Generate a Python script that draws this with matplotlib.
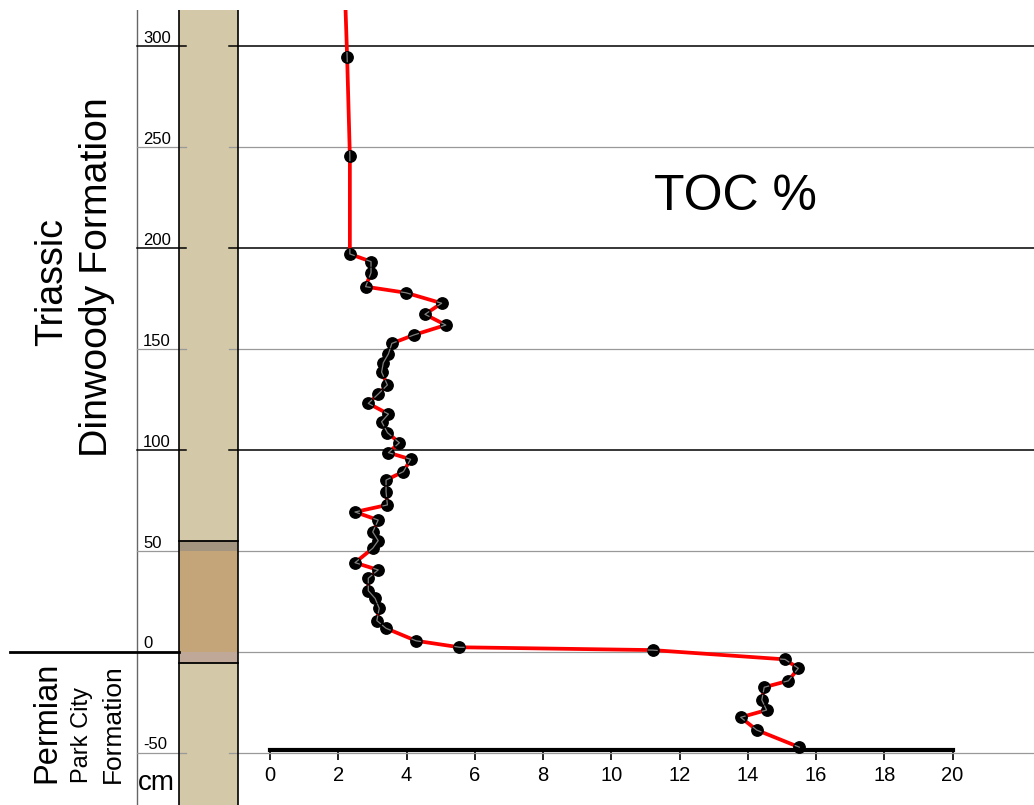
import matplotlib
matplotlib.use('Agg')
from matplotlib import pyplot as plt
from matplotlib.patches import Rectangle
from matplotlib.path import Path
from matplotlib.transforms import IdentityTransform
import numpy as np

plt.rcParams['font.family'] = ['Liberation Sans', 'DejaVu Sans']

# sample depths (cm above the Permian/Triassic contact) and TOC %
depth = [335, 294.5, 245.5, 197.0, 193.2, 187.7, 180.8, 177.8, 172.6, 167.1,
         161.8, 156.9, 152.7, 147.5, 143.1, 138.5, 132.1, 127.6, 123.0, 117.7,
         113.9, 108.5, 103.5, 98.6, 95.3, 89.2, 85.0, 79.2, 72.7, 69.2,
         65.2, 59.3, 55.0, 51.2, 44.1, 40.5, 36.4, 30.2, 26.4, 21.5,
         15.4, 11.6, 5.4, 2.2, 0.8, -3.8, -8.2, -14.4, -17.6, -23.9,
         -28.9, -32.5, -38.8, -47.3]
toc = [2.18, 2.26, 2.34, 2.34, 2.96, 2.96, 2.80, 3.98, 5.03, 4.54,
       5.15, 4.22, 3.57, 3.47, 3.32, 3.27, 3.44, 3.17, 2.88, 3.47,
       3.27, 3.44, 3.79, 3.47, 4.12, 3.91, 3.40, 3.40, 3.44, 2.49,
       3.17, 3.01, 3.17, 3.01, 2.49, 3.17, 2.88, 2.88, 3.08, 3.20,
       3.13, 3.40, 4.28, 5.55, 11.21, 15.09, 15.48, 15.19, 14.48, 14.41,
       14.55, 13.79, 14.26, 15.51]

depth_ticks = [300, 250, 200, 150, 100, 50, 0, -50]
major_lines = [300, 200, 100]
toc_ticks = list(range(0, 21, 2))

# lithology column bands (top, bottom, colour)
bands = [(55, 50, '#a39580'), (50, 0, '#c4a57a'), (0, -5.7, '#bfa898')]

W, H = 1034, 805


def fx(px):
    return px / W


def fy(py):
    return 1 - py / H


fig = plt.figure(figsize=(W / 100, H / 100), dpi=100)
ax = fig.add_axes([0, 0, 1, 1 - 10 / H])
ax.set_xlim(-270 / 34.13, (W - 270) / 34.13)
ax.set_ylim((651.7 - 805) / 2.019, (651.7 - 10) / 2.019)

ymix = ax.get_yaxis_transform()

# column background
ax.add_patch(Rectangle((fx(179), 0), fx(238) - fx(179), 1, transform=ax.transAxes,
                       facecolor='#d3c9a8', edgecolor='none', zorder=1))

# depth axis line
ax.plot([fx(137), fx(137)], [0, 1], transform=ax.transAxes, color='#666666', lw=1, zorder=2)

# horizontal depth lines
for d in depth_ticks:
    col = 'black' if d in major_lines else '#999999'
    lw = 1.1 if d in major_lines else 0.9
    ax.axhline(d, xmin=fx(137), xmax=fx(186), color=col, lw=lw, zorder=2)
    ax.axhline(d, xmin=fx(229), xmax=1, color=col, lw=lw, zorder=2)
    ax.text(fx(143), d + 1.6, str(d), transform=ymix, ha='left', va='baseline',
            fontsize=12, zorder=8)

# contact line
ax.axhline(0, xmin=fx(10), xmax=fx(179), color='black', lw=2, zorder=4)

# coloured bands in the column
for top, bot, c in bands:
    ax.add_patch(Rectangle((fx(179), bot), fx(238) - fx(179), top - bot, transform=ymix,
                           facecolor=c, edgecolor='none', zorder=3))
for d in [bands[0][0], bands[-1][1]]:
    ax.axhline(d, xmin=fx(179), xmax=fx(238), color='black', lw=1.3, zorder=4)
for px in [179, 238]:
    ax.plot([fx(px), fx(px)], [0, 1], transform=ax.transAxes, color='black', lw=1.2, zorder=4)

# TOC profile
ax.plot(toc, depth, color='#ff0000', lw=2.7, zorder=5)
ax.plot(toc, depth, 'o', color='black', ms=8.2, zorder=6)
thin, = ax.plot(toc, depth, color='#808080', lw=0.9, zorder=7)
# the thin grey line only shows inside the dots
centres = ax.transData.transform(np.column_stack([toc, depth]))
dots = Path.make_compound_path(*[Path.circle(c, 5.2) for c in centres])
thin.set_clip_path(dots, IdentityTransform())

# TOC axis
for s in ['left', 'right', 'top']:
    ax.spines[s].set_visible(False)
ax.spines['bottom'].set_position(('data', -48.9))
ax.spines['bottom'].set_bounds(0, 20)
ax.spines['bottom'].set_linewidth(3)
ax.spines['bottom'].set_zorder(4)
ax.set_xticks(toc_ticks)
ax.set_yticks([])
ax.tick_params(axis='x', direction='out', length=7, width=1.2, labelsize=14.5, pad=4)

# labels
fig.text(fx(735), fy(197), 'TOC %', fontsize=36, ha='center', va='center')
rot = dict(rotation=90, rotation_mode='anchor', ha='left', va='baseline')
fig.text(fx(61.7), fy(345.7), 'Triassic', fontsize=27, **rot)
fig.text(fx(106.7), fy(456.7), 'Dinwoody Formation', fontsize=28.3, **rot)
fig.text(fx(55), fy(783), 'Permian', fontsize=23.5, **rot)
fig.text(fx(88.3), fy(783), 'Park City', fontsize=17, **rot)
fig.text(fx(120), fy(783), 'Formation', fontsize=19, **rot)
fig.text(fx(138), fy(790), 'cm', fontsize=20, ha='left', va='baseline')

plt.savefig('out.png', dpi=100)
